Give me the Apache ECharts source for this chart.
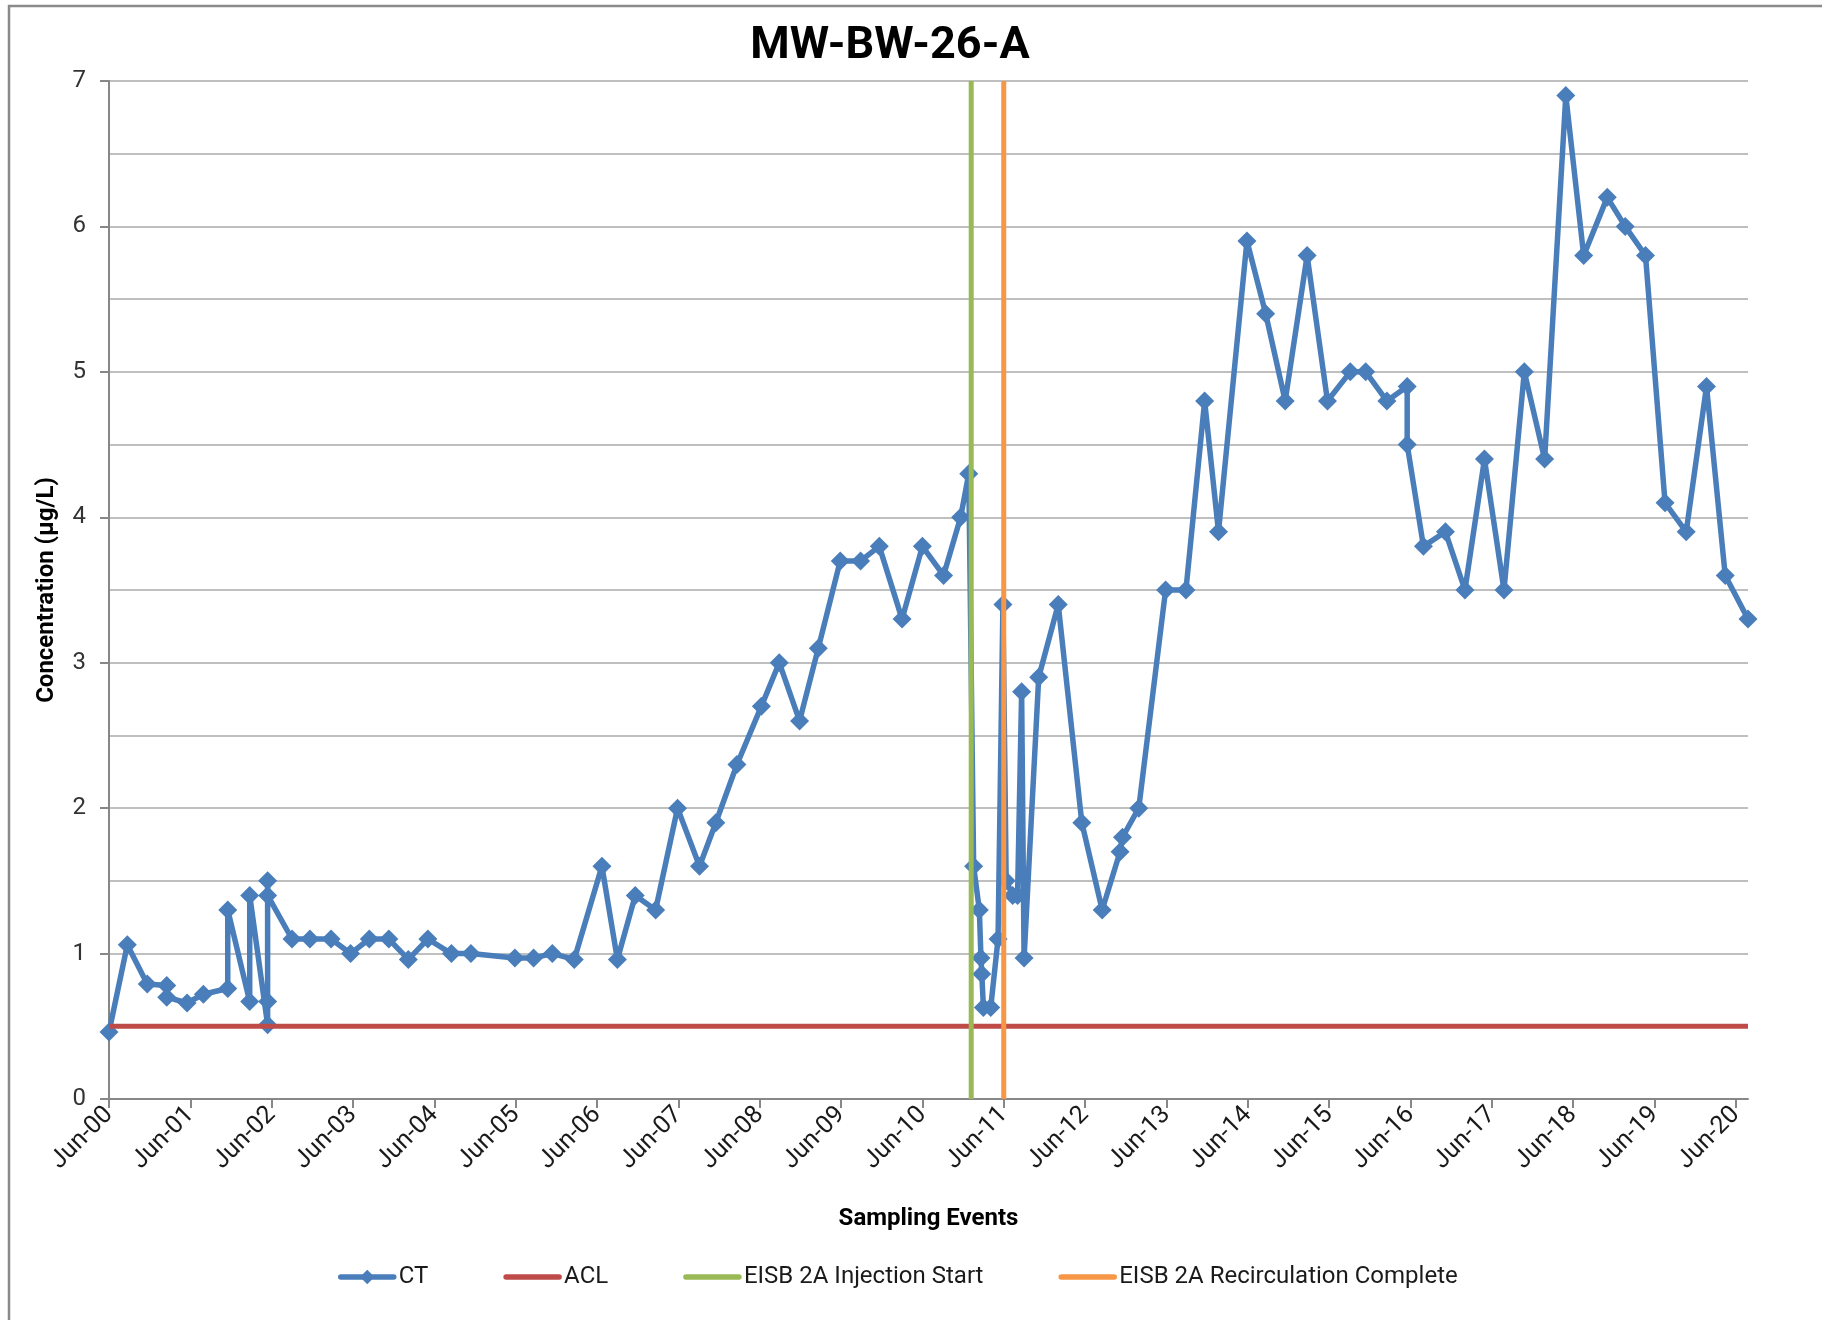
<!DOCTYPE html>
<html>
<head>
<meta charset="utf-8">
<script src="https://cdn.jsdelivr.net/npm/echarts@6/dist/echarts.min.js"></script>
<style>
  html, body { margin: 0; padding: 0; background: #ffffff; }
  #chart { width: 1822px; height: 1320px; }
</style>
</head>
<body>
<div id="chart"></div>
<script>
// Sampling dates, expressed as years after Jun-2000
const sampleYears = [0, 0.225, 0.47, 0.71, 0.71, 0.96, 1.16, 1.46, 1.46, 1.73, 1.73, 1.95, 1.95, 1.95, 1.95,
  2.25, 2.47, 2.73, 2.97, 3.20, 3.44, 3.68, 3.92, 4.21, 4.45, 4.99, 5.22, 5.45, 5.72, 6.06, 6.25, 6.47, 6.72,
  6.99, 7.26, 7.46, 7.72, 8.02, 8.24, 8.49, 8.72, 8.99, 9.24, 9.47, 9.75, 10.0, 10.26, 10.47, 10.57, 10.63,
  10.70, 10.72, 10.73, 10.75, 10.84, 10.93, 10.99, 11.03, 11.11, 11.17, 11.22, 11.25, 11.43, 11.67, 11.96,
  12.21, 12.43, 12.46, 12.66, 12.99, 13.24, 13.47, 13.64, 13.99, 14.22, 14.46, 14.73, 14.98, 15.26, 15.45,
  15.71, 15.96, 15.96, 16.16, 16.43, 16.67, 16.91, 17.15, 17.40, 17.65, 17.91, 18.13, 18.42, 18.64, 18.89,
  19.13, 19.39, 19.64, 19.87, 20.15];

// CT concentration (µg/L)
const ctValues = [0.46, 1.06, 0.79, 0.78, 0.70, 0.66, 0.72, 0.76, 1.30, 0.67, 1.40, 0.51, 1.50, 0.67, 1.40,
  1.10, 1.10, 1.10, 1.00, 1.10, 1.10, 0.96, 1.10, 1.00, 1.00, 0.97, 0.97, 1.00, 0.96, 1.60, 0.96, 1.40, 1.30,
  2.00, 1.60, 1.90, 2.30, 2.70, 3.00, 2.60, 3.10, 3.70, 3.70, 3.80, 3.30, 3.80, 3.60, 4.00, 4.30, 1.60,
  1.30, 0.97, 0.86, 0.63, 0.63, 1.10, 3.40, 1.50, 1.40, 1.40, 2.80, 0.97, 2.90, 3.40, 1.90,
  1.30, 1.70, 1.80, 2.00, 3.50, 3.50, 4.80, 3.90, 5.90, 5.40, 4.80, 5.80, 4.80, 5.00, 5.00,
  4.80, 4.90, 4.50, 3.80, 3.90, 3.50, 4.40, 3.50, 5.00, 4.40, 6.90, 5.80, 6.20, 6.00, 5.80,
  4.10, 3.90, 4.90, 3.60, 3.30];

const aclValue = 0.5;               // ACL (µg/L)
const injectionStartYear = 10.6;    // EISB 2A Injection Start
const recircCompleteYear = 11.0;    // EISB 2A Recirculation Complete
const tickYears = [0,1,2,3,4,5,6,7,8,9,10,11,12,13,14,15,16,17,18,19,20];
const yMax = 7;

const xMax = sampleYears[sampleYears.length - 1];
const ctData = sampleYears.map((x, i) => [x, ctValues[i]]);
const FONT = 'Roboto';

const chart = echarts.init(document.getElementById('chart'), null, { renderer: 'canvas' });
chart.setOption({
  backgroundColor: '#ffffff',
  animation: false,
  textStyle: { fontFamily: FONT },
  title: {
    text: 'MW-BW-26-A',
    left: 885,
    top: 19,
    textAlign: 'center',
    textStyle: { fontFamily: FONT, fontWeight: 'bold', fontSize: 45, color: '#000000' }
  },
  graphic: [{
    type: 'rect',
    silent: true,
    shape: { x: 9, y: 6, width: 1840, height: 1340 },
    style: { fill: 'none', stroke: '#8a8a8a', lineWidth: 2.5 },
    z: -10
  }],
  grid: { left: 109, top: 81, right: 74, bottom: 221, containLabel: false },
  legend: {
    left: 333,
    top: 1260,
    itemWidth: 53,
    itemHeight: 18,
    itemGap: 75,
    lineStyle: { width: 5.5, cap: 'round' },
    textStyle: { fontFamily: FONT, fontSize: 24, color: '#1a1a1a', padding: [0, 0, 0, 0] },
    data: [
      { name: 'CT' },
      { name: 'ACL', itemStyle: { opacity: 0 } },
      { name: 'EISB 2A Injection Start', itemStyle: { opacity: 0 } },
      { name: 'EISB 2A Recirculation Complete', itemStyle: { opacity: 0 } }
    ]
  },
  xAxis: {
    type: 'value',
    min: 0,
    max: xMax,
    name: 'Sampling Events',
    nameLocation: 'middle',
    nameGap: 108,
    nameTextStyle: { fontFamily: FONT, fontWeight: 'bold', fontSize: 24, color: '#000000' },
    axisLine: { show: true, onZero: false, lineStyle: { color: '#878787', width: 2 } },
    axisTick: { show: true, length: 9, customValues: tickYears, lineStyle: { color: '#878787', width: 2 } },
    axisLabel: {
      customValues: tickYears,
      rotate: 45,
      margin: 12,
      fontFamily: FONT,
      fontSize: 25,
      color: '#1a1a1a',
      formatter: v => 'Jun-' + String(Math.round(v)).padStart(2, '0')
    },
    splitLine: { show: false }
  },
  yAxis: {
    type: 'value',
    min: 0,
    max: yMax,
    interval: 1,
    name: 'Concentration (µg/L)',
    nameLocation: 'middle',
    nameGap: 50,
    nameTextStyle: { fontFamily: FONT, fontWeight: 'bold', fontSize: 24, color: '#000000' },
    axisLine: { show: true, lineStyle: { color: '#878787', width: 2 } },
    axisTick: { show: true, length: 9, lineStyle: { color: '#878787', width: 2 } },
    axisLabel: {
      margin: 23,
      fontFamily: FONT,
      fontSize: 24,
      color: '#333333',
      formatter: v => String(v)
    },
    splitLine: { show: true, lineStyle: { color: '#bfbfbf', width: 2 } },
    minorTick: { show: false, splitNumber: 2 },
    minorSplitLine: { show: true, lineStyle: { color: '#bfbfbf', width: 2 } }
  },
  series: [
    {
      name: 'CT',
      type: 'line',
      z: 2,
      data: ctData,
      symbol: 'diamond',
      symbolSize: [19, 19],
      showAllSymbol: true,
      itemStyle: { color: '#4a7ebb' },
      lineStyle: { color: '#4a7ebb', width: 5.5 }
    },
    {
      name: 'ACL',
      type: 'line',
      z: 3,
      symbol: 'none',
      data: [[0, aclValue], [xMax, aclValue]],
      itemStyle: { color: '#be4b48' },
      lineStyle: { color: '#be4b48', width: 5 }
    },
    {
      name: 'EISB 2A Injection Start',
      type: 'line',
      z: 4,
      symbol: 'none',
      data: [[injectionStartYear, 0], [injectionStartYear, yMax]],
      itemStyle: { color: '#98b954' },
      lineStyle: { color: '#98b954', width: 5 }
    },
    {
      name: 'EISB 2A Recirculation Complete',
      type: 'line',
      z: 5,
      symbol: 'none',
      data: [[recircCompleteYear, 0], [recircCompleteYear, yMax]],
      itemStyle: { color: '#f79646' },
      lineStyle: { color: '#f79646', width: 5 }
    }
  ]
});
</script>
</body>
</html>
